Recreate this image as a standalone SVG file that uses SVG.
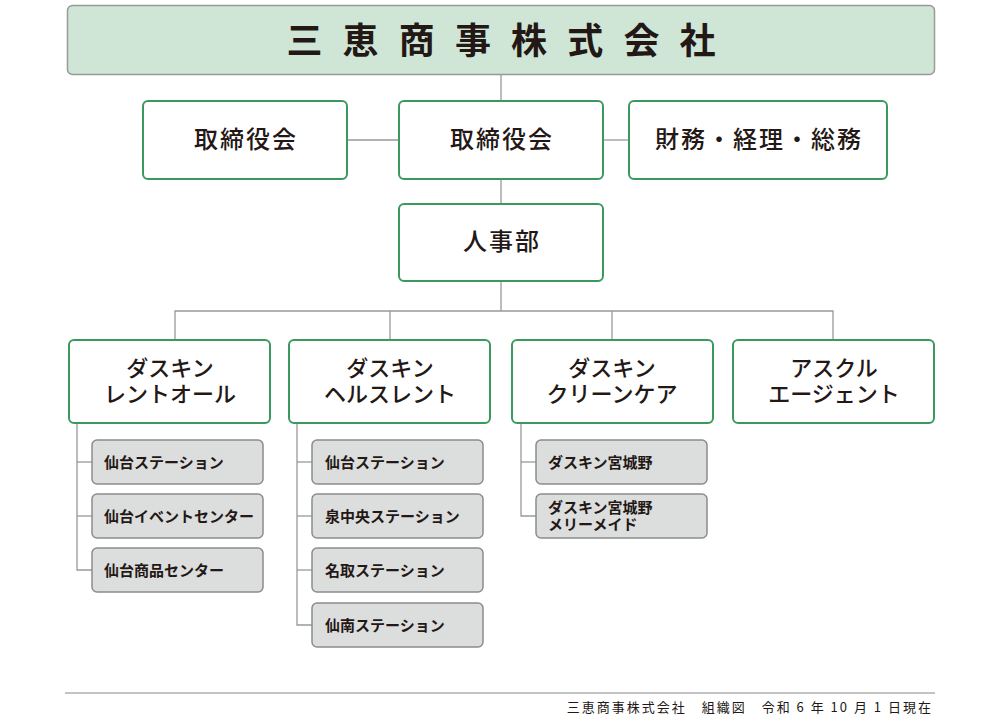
<svg xmlns="http://www.w3.org/2000/svg" width="1000" height="720" viewBox="0 0 1000 720">
<style>
text{font-family:"Noto Sans CJK JP","Noto Sans",sans-serif;fill:#231815}
.title{font-size:36px;font-weight:700;text-anchor:middle;letter-spacing:6px}
.main{fill:#fff;stroke:#3a9a5e;stroke-width:2}
.sub{fill:#dcdddd;stroke:#8c8c8c;stroke-width:1.5}
.mt{font-size:24px;font-weight:500;text-anchor:middle;letter-spacing:2px}
.kt{font-size:22px;font-weight:500;text-anchor:middle}
.st{font-size:15px;font-weight:700}
.conn line,.conn polyline{stroke:#999;stroke-width:1.3;fill:none}
</style>
<rect width="1000" height="720" fill="#fff"/>
<g class="conn">
<line x1="501" y1="75" x2="501" y2="101"/>
<line x1="347" y1="140" x2="399" y2="140"/>
<line x1="603" y1="140" x2="629" y2="140"/>
<line x1="501" y1="179" x2="501" y2="204"/>
<line x1="501" y1="281" x2="501" y2="311"/>
<polyline points="175,340 175,311 833,311 833,340"/>
<line x1="390" y1="311" x2="390" y2="340"/>
<line x1="612" y1="311" x2="612" y2="340"/>
<polyline points="77,423 77,570 92,570"/>
<line x1="77" y1="462" x2="92" y2="462"/>
<line x1="77" y1="516" x2="92" y2="516"/>
<polyline points="297,423 297,625 312,625"/>
<line x1="297" y1="462" x2="312" y2="462"/>
<line x1="297" y1="516" x2="312" y2="516"/>
<line x1="297" y1="570" x2="312" y2="570"/>
<polyline points="521,423 521,516 536,516"/>
<line x1="521" y1="462" x2="536" y2="462"/>
</g>
<g id="company">
<rect x="67.5" y="5.5" width="867" height="69" rx="5" fill="#cfe6d7" stroke="#999" stroke-width="1.5"/>
<text class="title" x="504" y="54">三 恵 商 事 株 式 会 社</text>
</g>
<g id="board1"><rect class="main" x="143" y="101" width="204" height="78" rx="5"/><text class="mt" x="246" y="148">取締役会</text></g>
<g id="board2"><rect class="main" x="399" y="101" width="204" height="78" rx="5"/><text class="mt" x="502" y="148">取締役会</text></g>
<g id="finance"><rect class="main" x="629" y="101" width="258" height="78" rx="5"/><text class="mt" x="759" y="148">財務・経理・総務</text></g>
<g id="hr"><rect class="main" x="399" y="204" width="204" height="77" rx="5"/><text class="mt" x="502" y="250">人事部</text></g>
<g id="rentall"><rect class="main" x="69" y="340" width="201" height="83" rx="5"/><text class="kt" x="170" y="376">ダスキン</text><text class="kt" x="170" y="402">レントオール</text></g>
<g id="health"><rect class="main" x="289" y="340" width="201" height="83" rx="5"/><text class="kt" x="390" y="376">ダスキン</text><text class="kt" x="390" y="402">ヘルスレント</text></g>
<g id="clean"><rect class="main" x="512" y="340" width="201" height="83" rx="5"/><text class="kt" x="612" y="376">ダスキン</text><text class="kt" x="612" y="402">クリーンケア</text></g>
<g id="askul"><rect class="main" x="733" y="340" width="201" height="83" rx="5"/><text class="kt" x="834" y="376">アスクル</text><text class="kt" x="834" y="402">エージェント</text></g>
<g id="r1"><rect class="sub" x="92" y="440" width="171" height="44" rx="5"/><text class="st" x="104" y="467.5">仙台ステーション</text></g>
<g id="r2"><rect class="sub" x="92" y="494" width="171" height="44" rx="5"/><text class="st" x="104" y="521.5">仙台イベントセンター</text></g>
<g id="r3"><rect class="sub" x="92" y="548" width="171" height="44" rx="5"/><text class="st" x="104" y="575.5">仙台商品センター</text></g>
<g id="h1"><rect class="sub" x="312" y="440" width="171" height="44" rx="5"/><text class="st" x="325" y="467.5">仙台ステーション</text></g>
<g id="h2"><rect class="sub" x="312" y="494" width="171" height="44" rx="5"/><text class="st" x="325" y="521.5">泉中央ステーション</text></g>
<g id="h3"><rect class="sub" x="312" y="548" width="171" height="44" rx="5"/><text class="st" x="325" y="575.5">名取ステーション</text></g>
<g id="h4"><rect class="sub" x="312" y="603" width="171" height="44" rx="5"/><text class="st" x="325" y="630.5">仙南ステーション</text></g>
<g id="c1"><rect class="sub" x="536" y="440" width="171" height="44" rx="5"/><text class="st" x="548" y="467.5">ダスキン宮城野</text></g>
<g id="c2"><rect class="sub" x="536" y="494" width="171" height="44" rx="5"/><text class="st" x="548" y="513">ダスキン宮城野</text><text class="st" x="548" y="530">メリーメイド</text></g>
<line x1="65" y1="693" x2="935" y2="693" stroke="#888" stroke-width="1"/>
<text x="933" y="712" font-size="13" letter-spacing="2" text-anchor="end">三恵商事株式会社　組織図　令和 6 年 10 月 1 日現在</text>
</svg>
